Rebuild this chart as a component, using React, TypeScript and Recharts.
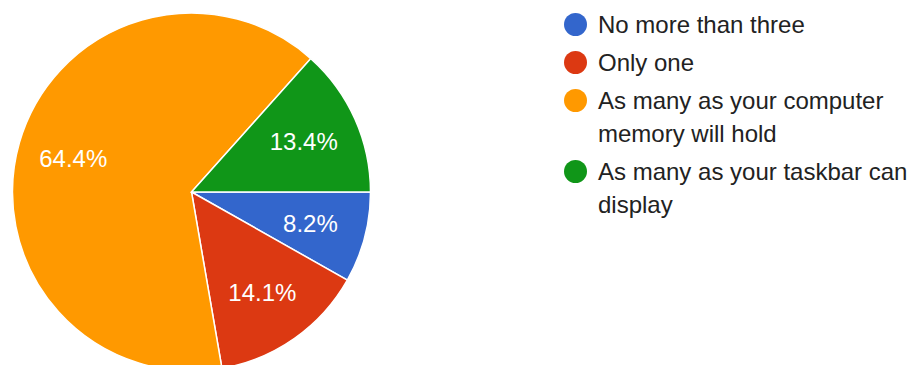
import { PieChart, Pie, Cell, Legend } from 'recharts';

const labels = [
  'No more than three',
  'Only one',
  'As many as your computer memory will hold',
  'As many as your taskbar can display',
];
const shares = [8.2, 14.1, 64.4, 13.4];
const colors = ['#3366cc', '#dc3912', '#ff9900', '#109618'];

const data = labels.map((name, i) => ({ name, value: shares[i] }));

const RAD = Math.PI / 180;

const SliceLabel = ({ cx, cy, midAngle, value }: any) => {
  const r = 123;
  const x = cx + r * Math.cos(-midAngle * RAD);
  const y = cy + r * Math.sin(-midAngle * RAD);
  return (
    <text
      x={x}
      y={y}
      fill="#ffffff"
      textAnchor="middle"
      dominantBaseline="central"
      fontSize={24}
      fontFamily="'Liberation Sans', Arial, sans-serif"
    >
      {Number(value).toFixed(1)}%
    </text>
  );
};

const LegendList = () => (
  <div style={{ fontFamily: "'Liberation Sans', Arial, sans-serif", fontSize: 24, color: '#222222' }}>
    {data.map((d, i) => (
      <div key={d.name} style={{ display: 'flex', alignItems: 'flex-start', marginBottom: 5 }}>
        <span
          style={{
            width: 23,
            height: 23,
            borderRadius: '50%',
            background: colors[i],
            marginTop: 5,
            marginRight: 11,
            flexShrink: 0,
          }}
        />
        <span style={{ lineHeight: '33px', width: 311 }}>{d.name}</span>
      </div>
    ))}
  </div>
);

export default function App() {
  return (
    <div style={{ position: 'fixed', left: 0, top: 0, width: 911, height: 365, background: '#fff' }}>
      <PieChart width={911} height={365} margin={{ top: 0, right: 0, bottom: 0, left: 0 }}>
        <Pie
          data={data}
          dataKey="value"
          nameKey="name"
          cx={191.5}
          cy={192}
          outerRadius={179}
          startAngle={0}
          endAngle={-360}
          stroke="#ffffff"
          strokeWidth={1.5}
          label={SliceLabel}
          labelLine={false}
          isAnimationActive={false}
        >
          {data.map((d, i) => (
            <Cell key={d.name} fill={colors[i]} />
          ))}
        </Pie>
        <Legend
          content={<LegendList />}
          wrapperStyle={{ position: 'absolute', left: 564, top: 7.5, width: 345, bottom: 'auto' }}
        />
      </PieChart>
    </div>
  );
}
